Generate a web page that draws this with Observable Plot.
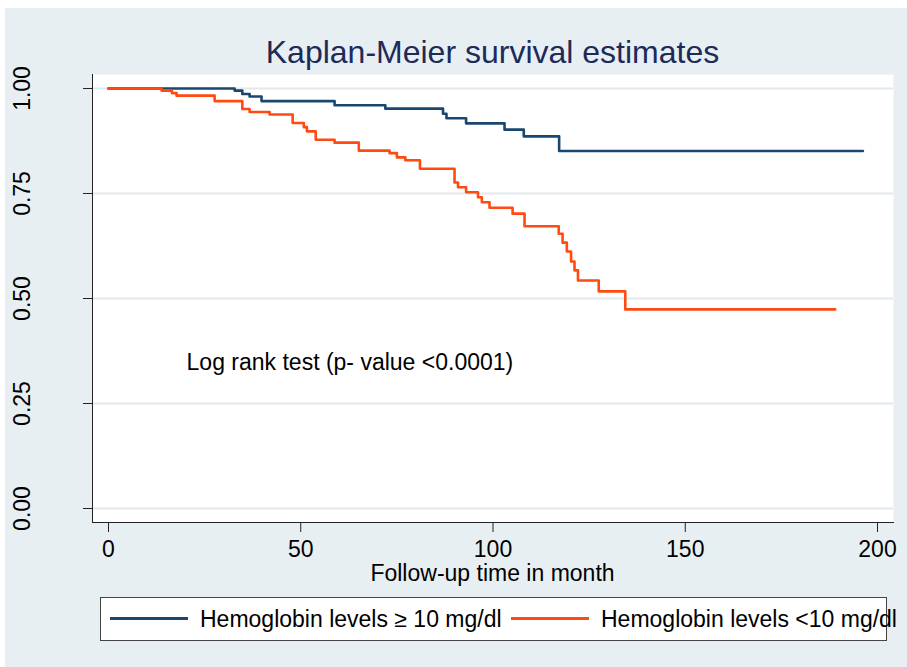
<!DOCTYPE html>
<html>
<head>
<meta charset="utf-8">
<script src="https://cdn.jsdelivr.net/npm/d3@7"></script>
<script src="https://cdn.jsdelivr.net/npm/@observablehq/plot@0.6"></script>
<style>
  body { margin: 0; background: #fff; font-family: "Liberation Sans", Arial, Helvetica, sans-serif; }
  #wrap { position: relative; width: 907px; height: 667px; overflow: hidden; }
  #bg { position: absolute; left: 5px; top: 8px; right: 0; bottom: 0; background: #e8eff2; }
  #chart { position: absolute; left: 0; top: 0; }
  #title { position: absolute; left: 92px; width: 801px; top: 32px; text-align: center; font-size: 32px; color: #1c2b5a; line-height: 40px; white-space: nowrap; }
  #xtitle { position: absolute; left: 92px; width: 801px; top: 560px; text-align: center; font-size: 23px; color: #000; line-height: 26px; white-space: nowrap; }
  #legend { position: absolute; left: 100px; top: 597px; width: 785px; height: 42px; background: #fff; border: 1px solid #444; }
  .lg { position: absolute; top: 606px; font-size: 23px; line-height: 26px; color: #000; white-space: nowrap; }
  .sw { position: absolute; top: 617px; height: 3px; }
</style>
</head>
<body>
<div id="wrap">
  <div id="bg"></div>
  <div id="chart"></div>
  <div id="title"></div>
  <div id="xtitle"></div>
  <div id="legend"></div>
  <div class="sw" id="sw0" style="left:110px;width:78px;"></div>
  <div class="lg" id="lg0" style="left:200px;"></div>
  <div class="sw" id="sw1" style="left:511px;width:78px;"></div>
  <div class="lg" id="lg1" style="left:601px;"></div>
</div>
<script>
// ---- data ----
const titleText = "Kaplan-Meier survival estimates";
const xAxisTitle = "Follow-up time in month";
const seriesNames = ["Hemoglobin levels \u2265 10 mg/dl", "Hemoglobin levels <10 mg/dl"];
const seriesColors = ["#1a476f", "#ff4a12"];

const xTicks = [0, 50, 100, 150, 200];
const yTicks = [0, 0.25, 0.5, 0.75, 1];

// Hemoglobin >= 10 : time (months) and survival
const highTime = [0, 32.8, 34.8, 36.7, 39.8, 58.8, 72.0, 87.0, 87.9, 93.0, 103.0, 108.0, 117.2, 196.2];
const highSurv = [1, 0.995, 0.987, 0.981, 0.970, 0.960, 0.952, 0.940, 0.929, 0.917, 0.902, 0.886, 0.851, 0.851];

// Hemoglobin < 10
const lowTime = [0, 13.8, 16.5, 17.7, 27.6, 34.8, 36.7, 41.9, 47.9, 50.8, 51.6, 53.9, 58.8, 65.1, 73.1, 75.0, 77.2, 81.0,
  90.0, 90.9, 93.0, 96.1, 97.1, 99.1, 105.1, 108.2, 117.1, 118.1, 119.2, 120.3, 121.2, 122.1, 127.5, 134.4, 189.0];
const lowSurv = [1, 0.995, 0.989, 0.983, 0.970, 0.951, 0.944, 0.938, 0.918, 0.908, 0.898, 0.878, 0.871, 0.852, 0.846, 0.836, 0.829, 0.809,
  0.776, 0.765, 0.753, 0.741, 0.729, 0.716, 0.702, 0.672, 0.654, 0.633, 0.612, 0.588, 0.567, 0.543, 0.517, 0.474, 0.474];

const noteText = ["Log rank test (p- value <0.0001)"];
const noteX = [20.3];
const noteY = [0.348];

// ---- build tables ----
const high = highTime.map((t, i) => ({t, s: highSurv[i]}));
const low = lowTime.map((t, i) => ({t, s: lowSurv[i]}));
const notes = noteText.map((txt, i) => ({txt, x: noteX[i], y: noteY[i]}));

document.getElementById("title").textContent = titleText;
document.getElementById("xtitle").textContent = xAxisTitle;
document.getElementById("lg0").textContent = seriesNames[0];
document.getElementById("lg1").textContent = seriesNames[1];
document.getElementById("sw0").style.background = seriesColors[0];
document.getElementById("sw1").style.background = seriesColors[1];

const chart = Plot.plot({
  width: 907,
  height: 667,
  marginLeft: 92,
  marginTop: 74,
  marginRight: 14,
  marginBottom: 145,
  style: {background: "transparent", fontFamily: "'Liberation Sans', Arial, sans-serif", color: "#000"},
  x: {domain: [-4.16, 204.16], label: null},
  y: {domain: [-0.0333, 1.0333], label: null},
  marks: [
    Plot.frame({fill: "white", stroke: null}),
    Plot.gridY(yTicks, {stroke: "#e2eaee", strokeOpacity: 1, strokeWidth: 2}),
    Plot.axisY(yTicks, {tickSize: 9, text: null, stroke: "#222", strokeWidth: 1}),
    Plot.text(yTicks, {y: d => d, text: d => d.toFixed(2), frameAnchor: "left", textAnchor: "middle", lineAnchor: "middle", dx: -70, rotate: -90, fontSize: 23, fill: "#000"}),
    Plot.axisX(xTicks, {tickSize: 10, tickPadding: 8, fontSize: 23, stroke: "#222", fill: "#000", label: null}),
    Plot.frame({anchor: "left", stroke: "#222"}),
    Plot.frame({anchor: "bottom", stroke: "#222"}),
    Plot.text(notes, {x: "x", y: "y", text: "txt", textAnchor: "start", fontSize: 23, fill: "#000"}),
    Plot.line(high, {x: "t", y: "s", curve: "step-after", stroke: seriesColors[0], strokeWidth: 2.6}),
    Plot.line(low, {x: "t", y: "s", curve: "step-after", stroke: seriesColors[1], strokeWidth: 2.6})
  ]
});
document.getElementById("chart").appendChild(chart);
</script>
</body>
</html>
